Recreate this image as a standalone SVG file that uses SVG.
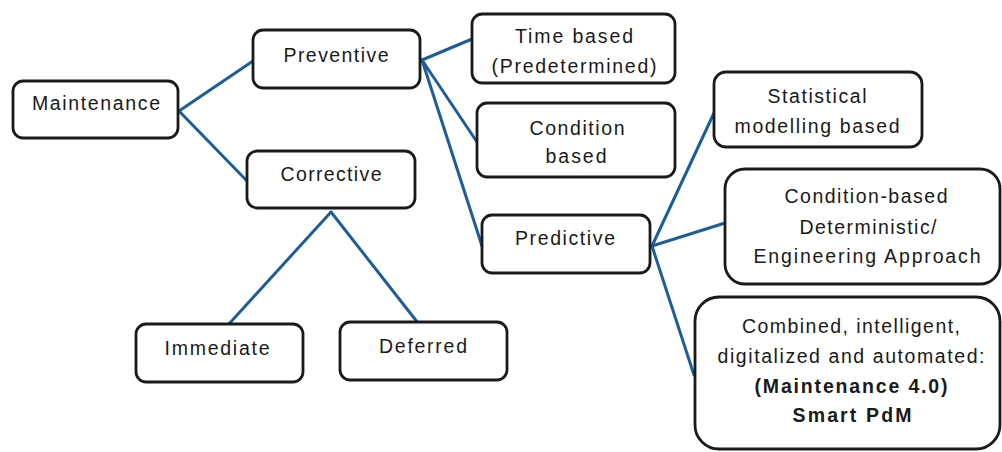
<svg xmlns="http://www.w3.org/2000/svg" width="1002" height="452" viewBox="0 0 1002 452">
  <style>
    .box { fill: #ffffff; stroke: #1a1a1a; stroke-width: 2.8; }
    .lbl { font-family: "Liberation Sans", Arial, sans-serif; font-size: 19.5px; fill: #1a1a1a; text-anchor: middle; }
    .b { font-weight: bold; }
    .conn { stroke: #1d5d98; stroke-width: 3; fill: none; stroke-linecap: round; }
  </style>
  <rect width="1002" height="452" fill="#ffffff"/>

  <g id="connectors">
    <line class="conn" x1="179" y1="111" x2="253" y2="61"/>
    <line class="conn" x1="179" y1="111" x2="247" y2="181"/>
    <line class="conn" x1="422" y1="60" x2="472" y2="39"/>
    <line class="conn" x1="422" y1="60" x2="477" y2="142"/>
    <line class="conn" x1="422" y1="60" x2="482" y2="246"/>
    <line class="conn" x1="331" y1="212" x2="228" y2="325"/>
    <line class="conn" x1="331" y1="212" x2="418" y2="323"/>
    <line class="conn" x1="652" y1="246" x2="714" y2="113"/>
    <line class="conn" x1="652" y1="246" x2="725" y2="223"/>
    <line class="conn" x1="652" y1="246" x2="694" y2="375"/>
  </g>

  <g id="maintenance">
    <rect class="box" x="13" y="81" width="165" height="57" rx="10"/>
    <text class="lbl" x="96" y="110" textLength="128" lengthAdjust="spacing">Maintenance</text>
  </g>

  <g id="preventive">
    <rect class="box" x="253" y="30" width="167" height="58" rx="10"/>
    <text class="lbl" x="336" y="62" textLength="105" lengthAdjust="spacing">Preventive</text>
  </g>

  <g id="corrective">
    <rect class="box" x="247" y="151" width="168" height="57" rx="10"/>
    <text class="lbl" x="331" y="181" textLength="101" lengthAdjust="spacing">Corrective</text>
  </g>

  <g id="time-based">
    <rect class="box" x="472" y="14" width="203" height="69" rx="10"/>
    <text class="lbl" x="574" y="43" textLength="118" lengthAdjust="spacing">Time based</text>
    <text class="lbl" x="574" y="73" textLength="165" lengthAdjust="spacing">(Predetermined)</text>
  </g>

  <g id="condition-based">
    <rect class="box" x="477" y="103" width="198" height="74" rx="10"/>
    <text class="lbl" x="577" y="135" textLength="95" lengthAdjust="spacing">Condition</text>
    <text class="lbl" x="576" y="163" textLength="61" lengthAdjust="spacing">based</text>
  </g>

  <g id="predictive">
    <rect class="box" x="482" y="215" width="168" height="58" rx="10"/>
    <text class="lbl" x="565" y="245" textLength="100" lengthAdjust="spacing">Predictive</text>
  </g>

  <g id="statistical">
    <rect class="box" x="714" y="72" width="208" height="75" rx="12"/>
    <text class="lbl" x="817" y="103" textLength="99" lengthAdjust="spacing">Statistical</text>
    <text class="lbl" x="817" y="133" textLength="165" lengthAdjust="spacing">modelling based</text>
  </g>

  <g id="deterministic">
    <rect class="box" x="725" y="169" width="275" height="115" rx="20"/>
    <text class="lbl" x="866" y="203" textLength="163" lengthAdjust="spacing">Condition-based</text>
    <text class="lbl" x="868" y="234" textLength="137" lengthAdjust="spacing">Deterministic/</text>
    <text class="lbl" x="867" y="263" textLength="227" lengthAdjust="spacing">Engineering Approach</text>
  </g>

  <g id="smart-pdm">
    <rect class="box" x="695" y="297" width="305" height="152" rx="24"/>
    <text class="lbl" x="851" y="333" textLength="218" lengthAdjust="spacing">Combined, intelligent,</text>
    <text class="lbl" x="851" y="363" textLength="267" lengthAdjust="spacing">digitalized and automated:</text>
    <text class="lbl b" x="851" y="393" textLength="193" lengthAdjust="spacing">(Maintenance 4.0)</text>
    <text class="lbl b" x="852" y="422" textLength="119" lengthAdjust="spacing">Smart PdM</text>
  </g>

  <g id="immediate">
    <rect class="box" x="136" y="324" width="167" height="58" rx="10"/>
    <text class="lbl" x="217" y="355" textLength="105" lengthAdjust="spacing">Immediate</text>
  </g>

  <g id="deferred">
    <rect class="box" x="340" y="322" width="167" height="58" rx="10"/>
    <text class="lbl" x="423" y="353" textLength="88" lengthAdjust="spacing">Deferred</text>
  </g>
</svg>
